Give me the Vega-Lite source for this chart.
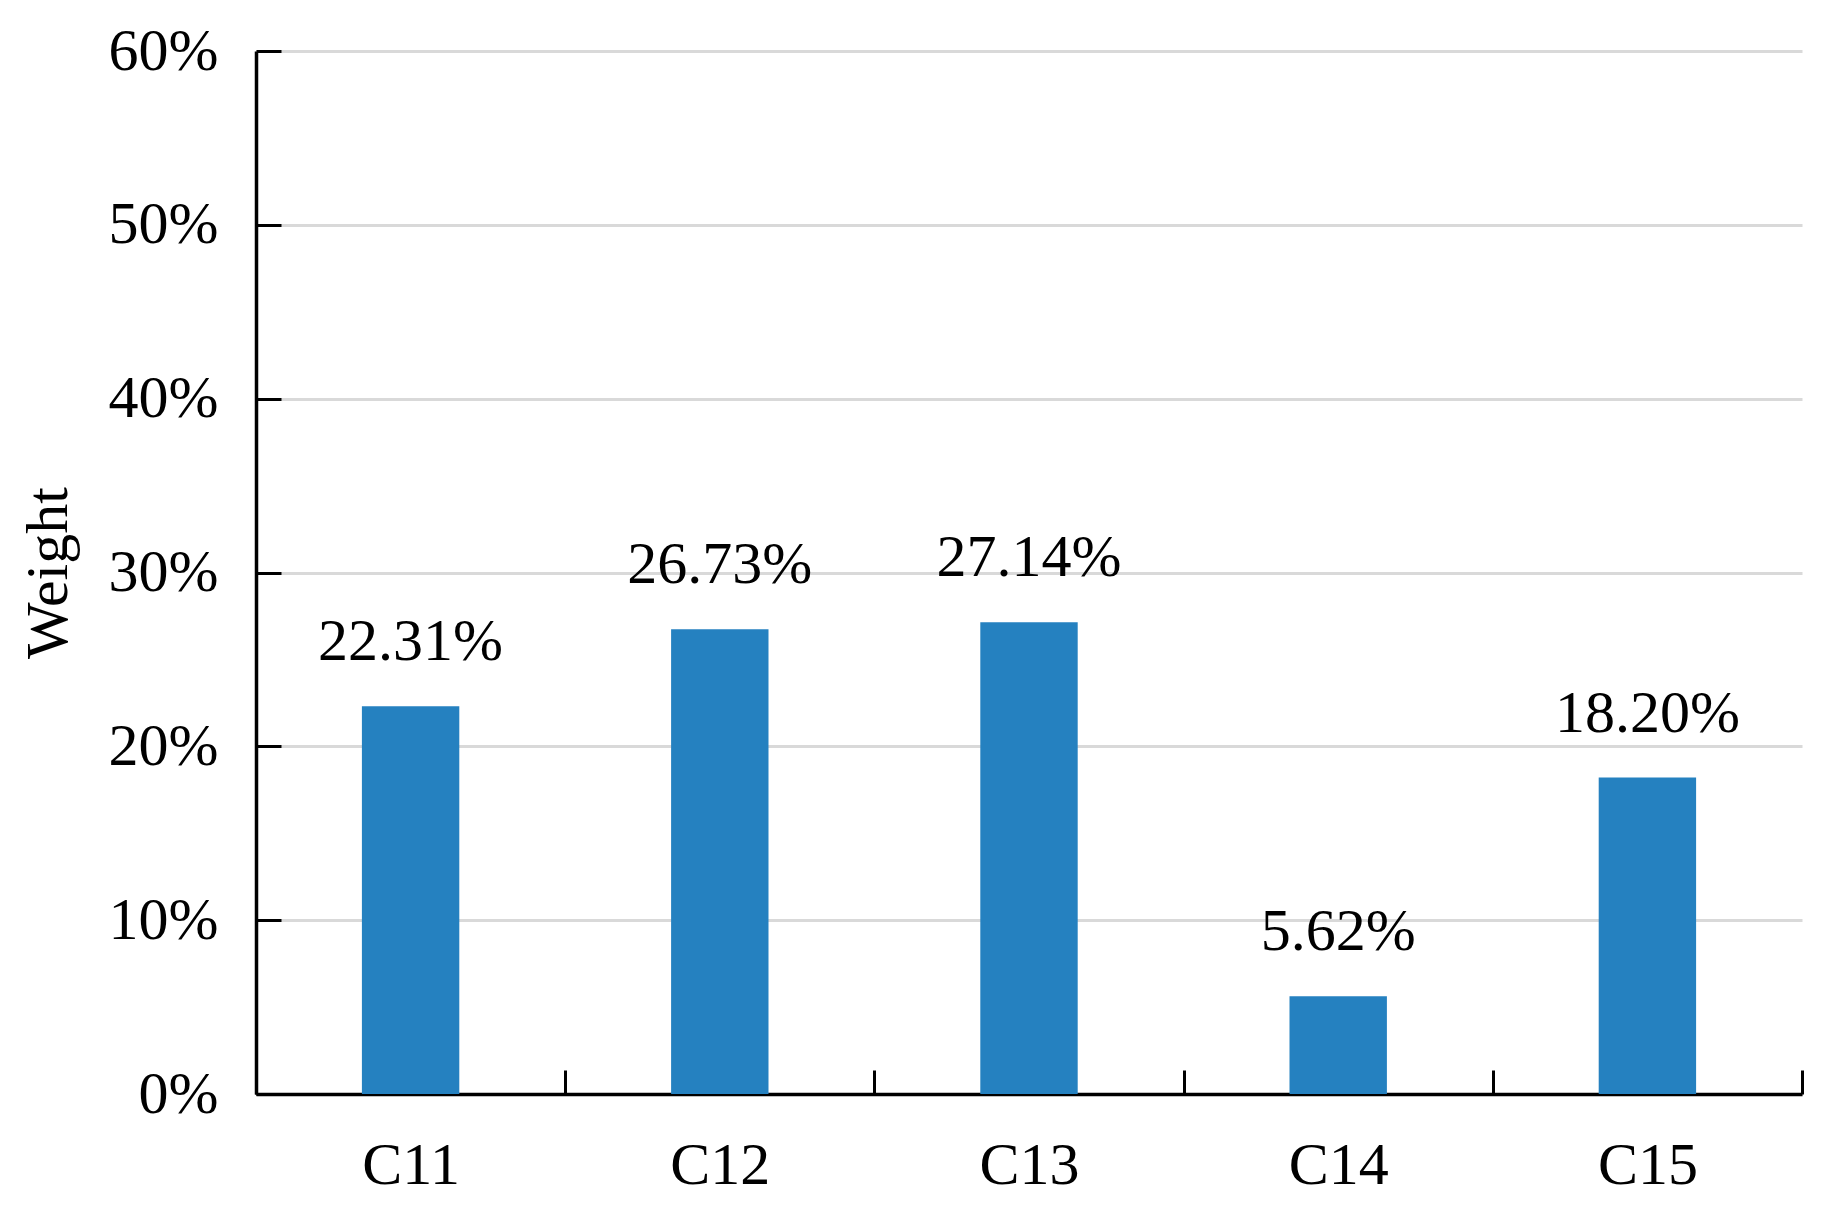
{
  "$schema": "https://vega.github.io/schema/vega-lite/v6.json",
  "autosize": "none",
  "width": 1546,
  "height": 1043,
  "padding": {"left": 256, "top": 51, "right": 29, "bottom": 118},
  "background": "white",
  "config": {
    "view": {"stroke": null},
    "font": "Liberation Serif",
    "axis": {
      "labelFont": "Liberation Serif",
      "titleFont": "Liberation Serif",
      "labelColor": "#000000",
      "titleColor": "#000000",
      "domainColor": "#000000",
      "tickColor": "#000000",
      "domainWidth": 3.5,
      "tickWidth": 3
    }
  },
  "data": {
    "values": [
      {"criterion": "C11", "weight": 0.2231},
      {"criterion": "C12", "weight": 0.2673},
      {"criterion": "C13", "weight": 0.2714},
      {"criterion": "C14", "weight": 0.0562},
      {"criterion": "C15", "weight": 0.1820}
    ]
  },
  "encoding": {
    "x": {
      "field": "criterion",
      "type": "nominal",
      "sort": null,
      "scale": {"paddingInner": 0, "paddingOuter": 0},
      "axis": {
        "title": null,
        "labelAngle": 0,
        "labelFontSize": 60,
        "labelPadding": 66,
        "tickBand": "extent",
        "tickSize": -24,
        "grid": false
      }
    },
    "y": {
      "field": "weight",
      "type": "quantitative",
      "scale": {"domain": [0, 0.6], "nice": false},
      "axis": {
        "title": "Weight",
        "titleFontSize": 60,
        "titleFontWeight": "normal",
        "titlePadding": 29,
        "format": ".0%",
        "values": [0, 0.1, 0.2, 0.3, 0.4, 0.5, 0.6],
        "labelFontSize": 60,
        "labelPadding": 63,
        "tickSize": -25,
        "grid": true,
        "gridColor": "#d9d9d9",
        "gridWidth": 3
      }
    }
  },
  "layer": [
    {"mark": {"type": "bar", "color": "#2581c0", "width": {"band": 0.315}}},
    {
      "mark": {"type": "text", "baseline": "alphabetic", "dy": -46, "fontSize": 60, "font": "Liberation Serif", "color": "#000000"},
      "encoding": {"text": {"field": "weight", "type": "quantitative", "format": ".2%"}}
    }
  ]
}
